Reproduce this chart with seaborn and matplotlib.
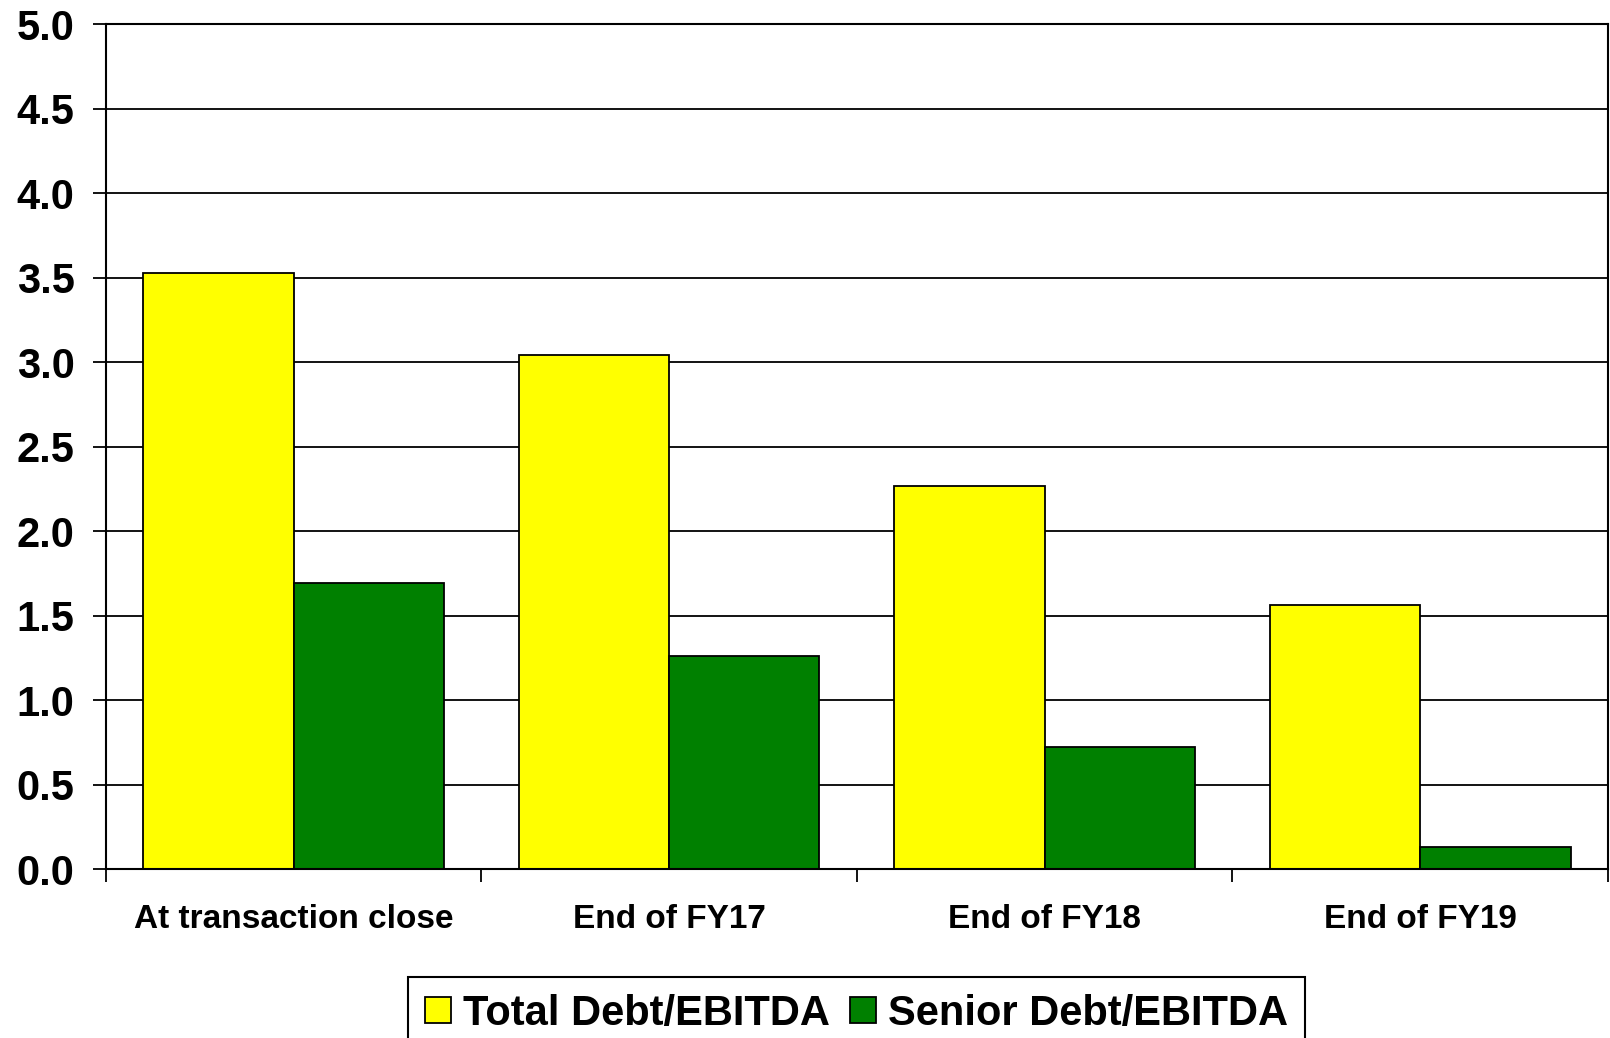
import numpy as np
import pandas as pd
import matplotlib
matplotlib.use("Agg")
import matplotlib.pyplot as plt
import seaborn as sns
from matplotlib.ticker import FixedLocator, FormatStrFormatter

# chart data
categories = ["At transaction close", "End of FY17", "End of FY18", "End of FY19"]
total_debt = [3.53, 3.04, 2.27, 1.56]
senior_debt = [1.69, 1.26, 0.72, 0.13]
series_names = ["Total Debt/EBITDA", "Senior Debt/EBITDA"]
series_colors = ["#FFFF00", "#008000"]
y_ticks = np.arange(0, 5.01, 0.5)

sns.set_style("white")
plt.rcParams['font.family'] = ['Liberation Sans', 'DejaVu Sans']
plt.rcParams['font.weight'] = 'bold'
for key in ['text.color', 'axes.labelcolor', 'xtick.color', 'ytick.color']:
    plt.rcParams[key] = 'black'

df = pd.DataFrame({
    'category': categories * 2,
    'value': total_debt + senior_debt,
    'series': [series_names[0]] * len(categories) + [series_names[1]] * len(categories),
})

fig = plt.figure(figsize=(16.1, 10.38), dpi=100)
ax = fig.add_axes([0.0657, 0.1628, 0.9331, 0.8138])

sns.barplot(data=df, x='category', y='value', hue='series', hue_order=series_names,
            palette=series_colors, width=0.8, edgecolor='black', linewidth=1.3,
            saturation=1, ax=ax)

ax.set_xlim(-0.5, len(categories) - 0.5)
ax.set_ylim(0, 5)
ax.set_yticks(y_ticks)
ax.yaxis.set_major_formatter(FormatStrFormatter('%.1f'))
ax.set_xlabel('')
ax.set_ylabel('')

# grid and frame
ax.yaxis.grid(True, color='black', linewidth=1.3)
ax.set_axisbelow(True)
for s in ax.spines.values():
    s.set_visible(True)
    s.set_color('black')
    s.set_linewidth(1.5)

ax.tick_params(axis='y', direction='out', length=9.5, width=1.3, pad=13,
               labelsize=30, left=True)
ax.tick_params(axis='x', which='major', length=0, pad=25, labelsize=24)
ax.xaxis.set_minor_locator(FixedLocator(np.arange(-0.5, len(categories), 1.0)))
ax.tick_params(axis='x', which='minor', direction='out', length=9, width=1.3, bottom=True)
for lab in ax.get_xticklabels() + ax.get_yticklabels():
    lab.set_fontweight('bold')

# legend below the chart
handles, labels = ax.get_legend_handles_labels()
ax.get_legend().remove()
leg = ax.legend(handles, labels, loc='upper center', bbox_to_anchor=(0.532, 0.0588),
                bbox_transform=fig.transFigure, borderaxespad=0, ncol=2, frameon=True,
                fancybox=False, handlelength=0.62, handleheight=0.6, handletextpad=0.29,
                columnspacing=0.48, borderpad=0.4, prop={'weight': 'bold', 'size': 30})
leg.get_frame().set_edgecolor('black')
leg.get_frame().set_linewidth(1.5)
leg.get_frame().set_alpha(1)

fig.savefig('out.png', dpi=100)
